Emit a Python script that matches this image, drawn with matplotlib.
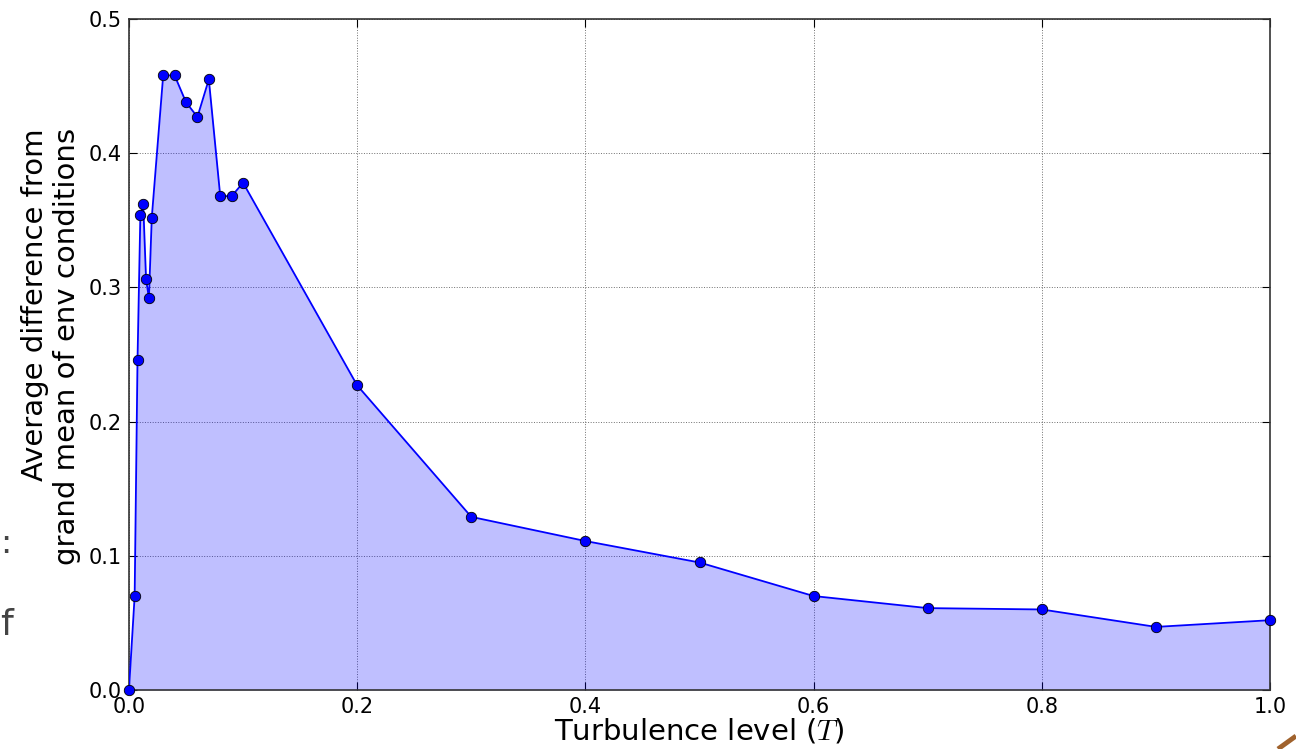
import matplotlib
matplotlib.use("Agg")
import matplotlib.pyplot as plt
from matplotlib.lines import Line2D

# Turbulence levels and the average deviation from the grand mean
turbulence = [0.0, 0.005, 0.0075, 0.01, 0.0125, 0.015, 0.0175, 0.02,
              0.03, 0.04, 0.05, 0.06, 0.07, 0.08, 0.09, 0.1,
              0.2, 0.3, 0.4, 0.5, 0.6, 0.7, 0.8, 0.9, 1.0]
avg_difference = [0.0, 0.070, 0.246, 0.354, 0.362, 0.306, 0.292, 0.352,
                  0.458, 0.458, 0.438, 0.427, 0.455, 0.368, 0.368, 0.378,
                  0.227, 0.129, 0.111, 0.095, 0.070, 0.061, 0.060, 0.047, 0.052]

x_ticks = [0.0, 0.2, 0.4, 0.6, 0.8, 1.0]
y_ticks = [0.0, 0.1, 0.2, 0.3, 0.4, 0.5]

plt.rcParams['font.family'] = ['DejaVu Sans']
plt.rcParams['mathtext.fontset'] = 'cm'

fig = plt.figure(figsize=(12.96, 7.49), dpi=100)
ax = fig.add_axes([0.0995, 0.0788, 0.8805, 0.8958])

ax.fill_between(turbulence, avg_difference, 0, color='blue', alpha=0.25, linewidth=0)
ax.plot(turbulence, avg_difference, '-', color='blue', linewidth=1.3, zorder=3)
ax.plot(turbulence, avg_difference, 'o', color='blue', markeredgecolor='black',
        markeredgewidth=0.6, markersize=7.5, zorder=4, clip_on=False)

ax.set_xlim(0, 1.0)
ax.set_ylim(0, 0.5)
ax.set_xticks(x_ticks)
ax.set_yticks(y_ticks)
ax.set_xticklabels([f"{v:.1f}" for v in x_ticks])
ax.set_yticklabels([f"{v:.1f}" for v in y_ticks])
ax.tick_params(direction='in', length=6, width=0.8, labelsize=15, top=True, right=True,
               pad=5)
ax.grid(True, linestyle=':', color='#333333', linewidth=0.7, alpha=0.7)
ax.set_axisbelow(True)
for s in ax.spines.values():
    s.set_linewidth(1.2)
    s.set_color('#333333')

ax.set_xlabel(r"Turbulence level ($T$)", fontsize=21, labelpad=0)
ax.set_ylabel("Average difference from\ngrand mean of env conditions",
              fontsize=21, linespacing=1.2, multialignment='right')
ax.yaxis.set_label_coords(-0.042, 0.512)

# Fragments of surrounding slide content
fig.text(0.0, 0.275, ":", fontsize=24, color='#444444', ha='left', va='center')
fig.text(0.0, 0.165, "f", fontsize=26, color='#444444', ha='left', va='center')
fig.add_artist(Line2D([1278 / 1296, 1296 / 1296], [0 / 749, 13 / 749],
                      transform=fig.transFigure, color='#a0622d', linewidth=3.5,
                      solid_capstyle='butt'))

fig.savefig("out.png", dpi=100, facecolor='white')
